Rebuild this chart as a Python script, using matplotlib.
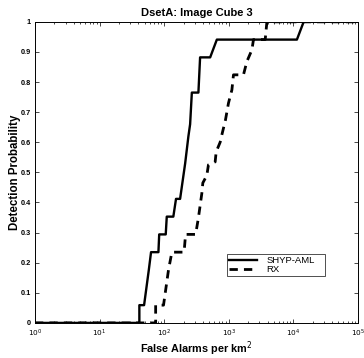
import matplotlib

matplotlib.use("Agg")
import matplotlib.pyplot as plt
from matplotlib.ticker import LogLocator, NullFormatter, FixedLocator

plt.rcParams["font.family"] = ["Liberation Sans", "DejaVu Sans"]

# ROC curves: false alarms per km^2 vs detection probability
shyp_fa = [1, 41.4, 41.4, 49, 58, 62.8, 81.7, 84, 106, 110, 139, 153, 177,
           212, 238, 253, 269, 340, 361, 517, 656, 11400, 14500, 100000]
shyp_pd = [0, 0, 0.059, 0.059, 0.176, 0.235, 0.235, 0.294, 0.294, 0.353, 0.353,
           0.412, 0.412, 0.53, 0.62, 0.66, 0.765, 0.765, 0.882, 0.882,
           0.941, 0.941, 1.0, 1.0]

rx_fa = [1, 74, 74, 85, 98, 117, 132, 204, 215, 308, 340, 384, 398, 459, 486,
         618, 640, 738, 785, 892, 993, 1122, 1187, 1695, 1913, 2290, 2422, 3680,
         3910, 100000]
rx_pd = [0, 0, 0.059, 0.059, 0.059, 0.176, 0.235, 0.235, 0.294, 0.294, 0.349,
         0.43, 0.465, 0.49, 0.525, 0.535, 0.568, 0.6, 0.625, 0.674, 0.73,
         0.774, 0.824, 0.824, 0.868, 0.907, 0.941, 0.941, 1.0, 1.0]

x_ticks = [1, 10, 100, 1000, 10000, 100000]
x_ticklabels = [r"$10^{%d}$" % i for i in range(6)]
y_ticks = [0, 0.1, 0.2, 0.3, 0.4, 0.5, 0.6, 0.7, 0.8, 0.9, 1]
y_ticklabels = ["0", "0.1", "0.2", "0.3", "0.4", "0.5", "0.6", "0.7", "0.8", "0.9", "1"]

fig = plt.figure(figsize=(3.64, 3.58), dpi=100)
ax = fig.add_axes([0.096, 0.098, 0.887, 0.841])

ax.plot(shyp_fa, shyp_pd, color="black", lw=1.7, label="SHYP-AML")
ax.plot(rx_fa, rx_pd, color="black", lw=2.0, linestyle=(0, (3, 2.2)), label="RX")

ax.set_xscale("log")
ax.set_xlim(1, 100000)
ax.set_ylim(0, 1)
ax.xaxis.set_major_locator(FixedLocator(x_ticks))
ax.set_xticklabels(x_ticklabels)
ax.xaxis.set_minor_locator(LogLocator(base=10, subs=range(2, 10)))
ax.xaxis.set_minor_formatter(NullFormatter())
ax.set_yticks(y_ticks)
ax.set_yticklabels(y_ticklabels)

ax.tick_params(which="both", direction="in", top=True, right=True,
               labelsize=5.3, width=0.5)
ax.tick_params(axis="x", pad=3.5)
ax.tick_params(axis="y", pad=3)
ax.tick_params(which="major", length=3)
ax.tick_params(which="minor", length=1.5)
for lbl in ax.get_xticklabels() + ax.get_yticklabels():
    lbl.set_fontweight("bold")
for sp in ax.spines.values():
    sp.set_linewidth(0.7)

ax.set_title("DsetA: Image Cube 3", fontsize=8, fontweight="bold", pad=4)
ax.set_xlabel("False Alarms per km$^2$", fontsize=7.8, fontweight="bold", labelpad=0)
ax.set_ylabel("Detection Probability", fontsize=8.3, fontweight="bold", labelpad=0)

leg = ax.legend(loc="lower left", bbox_to_anchor=(0.594, 0.156, 0.304, 0.093),
                mode="expand", fontsize=6.8, frameon=True, fancybox=False,
                handlelength=3.0, borderpad=0.2, labelspacing=0.0,
                handletextpad=1.0, borderaxespad=0)
leg.get_frame().set_edgecolor("black")
leg.get_frame().set_linewidth(0.6)

fig.savefig("out.png", dpi=100)
